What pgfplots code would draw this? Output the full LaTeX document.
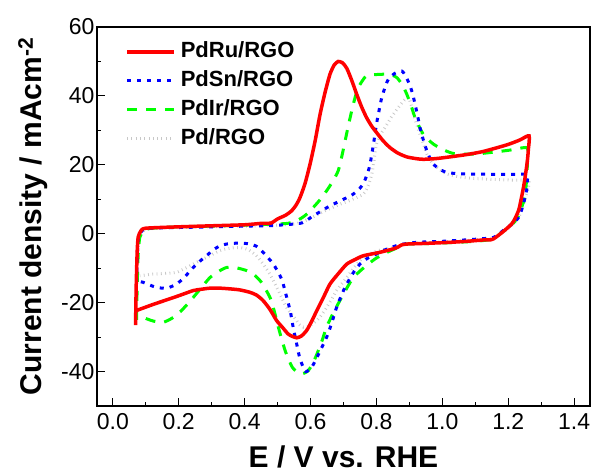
\documentclass[border=0pt]{standalone}
\usepackage{fontspec}
\setmainfont{Liberation Sans}
\usepackage{pgfplots}
\pgfplotsset{compat=1.18}

\definecolor{pdgray}{RGB}{200,200,200}
\newcommand{\tickfont}{\fontsize{23}{27}\selectfont}
\newcommand{\labfont}{\fontsize{30}{36}\selectfont\bfseries}
\newcommand{\legfont}{\fontsize{22}{26}\selectfont\bfseries}

\begin{document}
\begin{tikzpicture}
\useasboundingbox (-97pt,-67pt) rectangle (497pt,406pt);
\begin{axis}[
    scale only axis, width=493pt, height=379pt,
    xmin=-0.048, xmax=1.448, ymin=-50, ymax=60,
    xtick={0,0.2,...,1.4}, minor x tick num=1,
    ytick={-40,-20,...,60}, minor y tick num=1,
    xtick pos=bottom, ytick pos=left, tick align=inside,
    major tick length=8pt, minor tick length=4pt,
    axis line style={line width=1.3pt},
    every tick/.style={black, line width=1.1pt},
    ticklabel style={font=\tickfont},
    /pgf/number format/assume math mode=true,
    xticklabel style={yshift=-4pt, /pgf/number format/.cd, fixed, fixed zerofill, precision=1},
    yticklabel style={xshift=1pt},
    xlabel={\labfont E / V vs. RHE},
    ylabel={\labfont Current density / mAcm\textsuperscript{-2}},
    xlabel style={at={(axis description cs:0.5,-0.162)}, anchor=base},
    ylabel style={at={(axis description cs:-0.112,0.5)}, anchor=base, rotate=0},
    reverse legend,
    legend cell align=left,
    legend image code/.code={\draw[#1] (0pt,0pt) -- (47pt,0pt);},
    legend style={at={(0.057,0.965)}, anchor=north west, draw=none, fill=none,
        font=\legfont, inner sep=0pt, row sep=6pt, column sep=4pt,
        nodes={inner sep=1pt, text height=16pt, text depth=5pt}},
]
% Pd/RGO
\addplot[pdgray, line width=3pt, dash pattern=on 0.8pt off 3.5pt, smooth, tension=0.4] coordinates {
(0.074,-12.5) (0.076,-6) (0.080,-1) (0.095,1) (0.12,1.5) (0.2,1.8) (0.3,2.0) (0.4,2.2) (0.5,2.5) (0.56,3)
(0.6,4.5) (0.64,6.5) (0.69,8.6) (0.72,9.7) (0.76,11.5) (0.775,14) (0.786,17.3) (0.793,21.5) (0.80,26)
(0.812,28.8) (0.826,30.8) (0.845,33.8) (0.866,36.6) (0.885,38.8) (0.897,39.5) (0.905,37.5) (0.912,34.7)
(0.922,31.8) (0.932,28.9) (0.943,26) (0.953,23.1) (0.967,20.8) (0.983,19.3) (1.01,17.5) (1.05,16.5)
(1.1,16) (1.2,15.6) (1.26,15.4) (1.26,13) (1.252,10.5) (1.245,8) (1.235,5.5) (1.22,3.3) (1.2,1.5)
(1.175,0) (1.155,-1.2) (1.1,-1.8) (1.0,-2.4) (0.9,-2.9) (0.86,-3.8) (0.83,-4.5) (0.80,-5) (0.76,-6.9)
(0.735,-9.5) (0.71,-12.7) (0.695,-14.5) (0.679,-16.5) (0.664,-19) (0.649,-21.4) (0.634,-23.5)
(0.619,-25.2) (0.6,-26.6) (0.578,-27.1) (0.565,-26.3) (0.558,-25.2) (0.542,-23.3) (0.527,-21.4)
(0.512,-18.5) (0.497,-15.5) (0.475,-11.5) (0.456,-8.8) (0.435,-6.3) (0.41,-4.6) (0.385,-4) (0.355,-4.2)
(0.325,-4.9) (0.29,-6.6) (0.254,-8.3) (0.22,-10) (0.193,-11.2) (0.16,-11.5) (0.122,-11.7) (0.082,-12.2)
};
\addlegendentry{Pd/RGO}
% PdIr/RGO
\addplot[green, line width=3pt, dash pattern=on 10pt off 9pt, smooth, tension=0.4] coordinates {
(0.072,-25) (0.074,-15) (0.077,-6) (0.082,-1) (0.095,1) (0.12,1.6) (0.2,2.0) (0.3,2.2) (0.4,2.5)
(0.53,3) (0.568,4.3) (0.59,5.8) (0.608,7.6) (0.63,10) (0.649,12.5) (0.668,15.3) (0.684,18.3)
(0.695,22.5) (0.705,27) (0.715,31.5) (0.725,35.7) (0.735,39.5) (0.745,42.4) (0.758,44.5) (0.77,45.8)
(0.8,46.2) (0.831,46.3) (0.848,46) (0.862,45.3) (0.878,43.3) (0.892,40.5) (0.905,37.2) (0.917,33.7)
(0.93,31) (0.942,28.9) (0.957,27.3) (0.973,26) (1.0,24.5) (1.033,23.3) (1.08,23.1) (1.12,23.3)
(1.2,24.2) (1.256,25) (1.258,22.5) (1.258,20.2) (1.255,15) (1.25,10.5) (1.24,7.5) (1.23,5)
(1.215,3) (1.2,1.8) (1.175,0) (1.155,-1.5) (1.1,-2.2) (0.973,-2.8) (0.89,-3) (0.87,-3.8) (0.83,-5.5)
(0.796,-7.3) (0.76,-10) (0.73,-12.7) (0.71,-15.8) (0.689,-19.4) (0.669,-23) (0.649,-27) (0.635,-31)
(0.619,-35) (0.605,-38) (0.59,-40) (0.568,-40.7) (0.545,-38.8) (0.527,-35) (0.515,-31.5) (0.502,-27)
(0.49,-22.5) (0.477,-18.5) (0.45,-14) (0.426,-11.7) (0.406,-10.7) (0.375,-9.9) (0.345,-9.8)
(0.32,-11) (0.295,-12.7) (0.27,-15.5) (0.244,-18.5) (0.223,-20.8) (0.203,-22.8) (0.18,-24.5)
(0.153,-25.7) (0.125,-25.4) (0.103,-24.7) (0.077,-23.5)
};
\addlegendentry{PdIr/RGO}
% PdSn/RGO
\addplot[blue, line width=3pt, dash pattern=on 4pt off 6pt, smooth, tension=0.4] coordinates {
(0.072,-14) (0.074,-7) (0.078,-1) (0.09,1) (0.11,1.6) (0.2,1.8) (0.3,2.0) (0.4,2.2) (0.49,2.4)
(0.568,3) (0.59,4) (0.608,5.2) (0.635,6.7) (0.659,8.1) (0.7,10) (0.725,11.2) (0.745,12.7)
(0.76,14.5) (0.77,16.8) (0.779,19.5) (0.786,23.1) (0.793,27.3) (0.80,31.8) (0.808,35.8)
(0.816,39.5) (0.826,42.5) (0.836,44.8) (0.855,46.5) (0.877,47.2) (0.89,45.5) (0.902,42.9)
(0.91,40.5) (0.917,37.6) (0.925,34.2) (0.932,30.8) (0.942,27.3) (0.953,24) (0.963,21.8)
(0.973,20.2) (0.99,18.8) (1.013,17.8) (1.05,17.4) (1.1,17.3) (1.2,17.2) (1.256,17.2)
(1.258,15.5) (1.257,13.4) (1.252,11) (1.246,8.6) (1.239,6.5) (1.231,4.7) (1.215,3) (1.196,1.8)
(1.175,0.2) (1.155,-1.1) (1.1,-1.6) (1.0,-2.2) (0.922,-2.5) (0.87,-3.2) (0.83,-4.5) (0.80,-5.9)
(0.775,-7) (0.75,-8.8) (0.725,-12) (0.70,-16.5) (0.679,-21.4) (0.664,-26) (0.649,-30) (0.624,-35)
(0.605,-38.5) (0.585,-40) (0.568,-36.3) (0.558,-32) (0.548,-27.5) (0.538,-22.3) (0.525,-17.5)
(0.512,-13.1) (0.487,-8.8) (0.456,-5.4) (0.435,-3.6) (0.416,-3) (0.39,-2.7) (0.365,-2.8)
(0.345,-3) (0.325,-3.5) (0.305,-4.7) (0.284,-6.4) (0.264,-8) (0.244,-9.8) (0.228,-11.5)
(0.213,-13.1) (0.19,-14.8) (0.163,-15.8) (0.133,-15.6) (0.11,-14.8) (0.092,-14.1) (0.078,-13.8)
};
\addlegendentry{PdSn/RGO}
% PdRu/RGO
\addplot[red, line width=3.5pt, smooth, tension=0.4] coordinates {
(0.069,-26.5) (0.071,-15) (0.074,-5) (0.077,-1) (0.085,0.8) (0.1,1.6) (0.2,2.0) (0.3,2.3) (0.4,2.6)
(0.45,3.0) (0.48,3.1) (0.5,4.3) (0.525,5.4) (0.543,6.7) (0.556,8.3) (0.568,10.5) (0.583,14.5)
(0.598,20) (0.614,27) (0.629,34.7) (0.644,41) (0.659,46.3) (0.672,49) (0.684,50) (0.697,49.6)
(0.71,48) (0.725,44.5) (0.74,40.5) (0.755,36.8) (0.77,33.7) (0.785,31.3) (0.80,29.4) (0.82,27)
(0.841,25) (0.865,23.4) (0.892,22.3) (0.92,21.8) (0.942,21.6) (0.98,21.8) (1.023,22.3)
(1.075,23) (1.125,23.9) (1.196,25.8) (1.235,27.2) (1.263,28.4) (1.261,24.5) (1.258,21.2)
(1.252,17) (1.246,13.4) (1.239,10) (1.231,6.7) (1.21,2.8) (1.155,-1.5) (1.125,-1.8) (1.074,-2.2)
(1.023,-2.5) (0.95,-2.8) (0.892,-3) (0.875,-3.3) (0.865,-3.9) (0.851,-4.4) (0.81,-5.4) (0.76,-6.4)
(0.735,-7.5) (0.71,-8.8) (0.685,-11.5) (0.659,-14.6) (0.639,-18.5) (0.619,-22.3) (0.603,-25.5)
(0.588,-28.1) (0.572,-29.7) (0.558,-30.2) (0.545,-29.8) (0.532,-29.1) (0.515,-27.2) (0.497,-25.2)
(0.477,-22) (0.456,-19.4) (0.436,-17.8) (0.416,-17) (0.385,-16.3) (0.355,-16) (0.325,-15.8)
(0.295,-15.8) (0.27,-16.1) (0.244,-16.5) (0.2,-18) (0.163,-19.2) (0.12,-20.6) (0.077,-22.1)
(0.072,-22.3)
};
\addlegendentry{PdRu/RGO}
\end{axis}
\end{tikzpicture}
\end{document}
